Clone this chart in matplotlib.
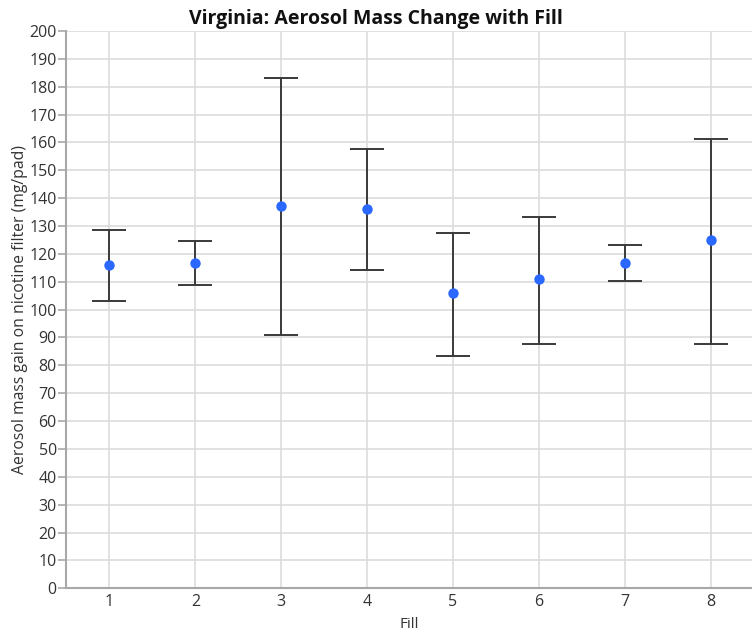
import matplotlib
matplotlib.use("Agg")
import matplotlib.pyplot as plt
import numpy as np

plt.rcParams['font.family'] = ['Open Sans', 'DejaVu Sans']

fills = [1, 2, 3, 4, 5, 6, 7, 8]
means = [116.1, 116.9, 137.2, 136.1, 105.9, 110.9, 116.9, 124.9]
lower = [103.1, 108.7, 91.0, 114.1, 83.5, 87.8, 110.3, 87.8]
upper = [128.7, 124.7, 183.2, 157.7, 127.6, 133.2, 123.1, 161.3]
y_ticks = list(range(0, 201, 10))

fig = plt.figure(figsize=(7.52, 6.31), dpi=100)
ax = fig.add_axes([0.0884, 0.0677, 0.9116, 0.8832])

m = np.array(means)
yerr = np.array([m - np.array(lower), np.array(upper) - m])
ax.errorbar(fills, means, yerr=yerr, fmt='none', ecolor='#3a3a3a',
            elinewidth=1.4, capsize=12, capthick=1.4, zorder=3)
ax.plot(fills, means, 'o', color='#2b68ff', markersize=7.5, zorder=4,
        markeredgewidth=0)

ax.set_xlim(0.5, 8.48)
ax.set_ylim(0, 200)
ax.set_yticks(y_ticks)
ax.set_xticks(fills)
ax.grid(True, color='#dcdcdc', linewidth=1.2)
ax.set_axisbelow(True)

for s in ['top', 'right']:
    ax.spines[s].set_visible(False)
for s in ['left', 'bottom']:
    ax.spines[s].set_color('#a8a8a8')
    ax.spines[s].set_linewidth(1.5)

ax.tick_params(axis='y', length=6, width=1.2, color='#a8a8a8', labelsize=11.5,
               labelcolor='#333333', pad=1)
ax.tick_params(axis='x', length=0, labelsize=11.5, labelcolor='#333333', pad=4)

ax.set_xlabel('Fill', fontsize=11, color='#333333', labelpad=5)
ax.set_ylabel('Aerosol mass gain on nicotine filter (mg/pad)', fontsize=11.3,
              color='#333333', labelpad=1)
fig.text(0.5, 0.986, 'Virginia: Aerosol Mass Change with Fill', ha='center',
         va='top', fontsize=14, fontweight='bold', color='#111111')

fig.savefig('out.png', dpi=100)
